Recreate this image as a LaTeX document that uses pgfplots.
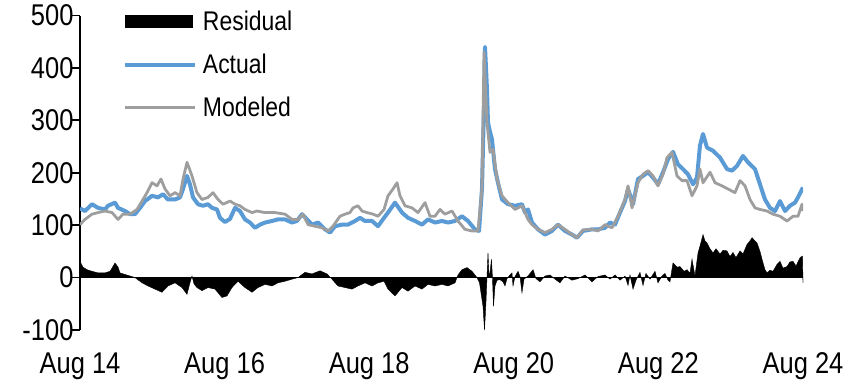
\documentclass[border=0pt]{standalone}
\usepackage{pgfplots}
\pgfplotsset{compat=1.18}
\usepackage{pgfplotstable}
\usepackage{fontspec}
\setmainfont{Liberation Sans}[FakeStretch=0.85]
\definecolor{actblue}{HTML}{5B9BD5}
\definecolor{modgray}{HTML}{9E9E9E}
\newcommand{\chartfont}{\fontsize{27}{32}\selectfont}
\newcommand{\tickfont}{\fontsize{30}{35}\selectfont}

\pgfplotstableread{
t v
0 132
0.069 127
0.166 140
0.249 133
0.346 130
0.387 137
0.484 143
0.526 133
0.622 127
0.692 121
0.761 121
0.830 133
0.899 146
0.996 156
1.079 153
1.148 159
1.217 149
1.314 149
1.383 153
1.425 169
1.480 194
1.521 178
1.563 153
1.632 140
1.701 137
1.770 140
1.826 133
1.895 130
1.936 114
2.005 106
2.075 112
2.144 133
2.213 127
2.282 111
2.351 105
2.420 95
2.490 101
2.559 105
2.656 108
2.739 111
2.835 111
2.932 105
3.001 108
3.071 121
3.140 111
3.209 101
3.292 105
3.389 92
3.458 86
3.527 98
3.624 101
3.707 101
3.804 108
3.873 114
3.942 108
4.039 108
4.122 98
4.205 114
4.260 124
4.357 143
4.454 124
4.537 114
4.634 108
4.730 101
4.813 111
4.910 105
5.007 108
5.090 105
5.187 108
5.283 117
5.366 108
5.463 92
5.519 89
5.560 169
5.588 328
5.602 440
5.629 360
5.643 296
5.671 278
5.698 264
5.712 245
5.740 207
5.781 181
5.837 149
5.920 140
6.017 137
6.113 140
6.155 124
6.196 130
6.252 105
6.335 92
6.432 82
6.528 89
6.611 101
6.708 89
6.805 82
6.874 76
6.957 89
7.082 92
7.165 92
7.261 95
7.331 105
7.400 101
7.469 124
7.538 146
7.580 169
7.649 140
7.718 188
7.787 194
7.856 201
7.925 191
7.994 178
8.064 201
8.133 226
8.202 240
8.271 216
8.340 207
8.409 197
8.479 178
8.534 191
8.575 252
8.617 274
8.672 248
8.755 242
8.852 229
8.949 207
9.018 204
9.087 213
9.170 232
9.239 220
9.336 207
9.405 178
9.474 149
9.544 133
9.613 127
9.682 146
9.751 127
9.820 137
9.889 143
9.931 153
10.0 172
}\actual

\pgfplotstableread{
t v
0 101
0.069 111
0.166 121
0.249 124
0.346 127
0.443 124
0.526 111
0.595 121
0.692 121
0.788 130
0.858 146
0.927 162
0.996 181
1.065 175
1.120 188
1.176 169
1.245 156
1.314 162
1.383 156
1.425 188
1.480 220
1.549 194
1.618 162
1.687 149
1.770 153
1.840 162
1.909 149
1.978 140
2.075 146
2.144 140
2.213 137
2.282 130
2.379 124
2.448 127
2.559 124
2.697 124
2.835 121
2.932 111
3.015 111
3.084 121
3.154 101
3.250 98
3.347 95
3.430 89
3.499 98
3.596 117
3.665 121
3.734 124
3.776 133
3.845 137
3.900 127
3.970 124
4.053 121
4.122 117
4.205 130
4.260 156
4.329 169
4.385 181
4.426 156
4.495 137
4.592 133
4.675 124
4.772 143
4.841 117
4.910 117
4.979 130
5.048 121
5.145 127
5.228 108
5.325 92
5.422 89
5.505 89
5.560 169
5.588 430
5.629 296
5.671 239
5.712 245
5.768 188
5.837 156
5.920 143
6.017 130
6.113 137
6.196 111
6.252 101
6.335 92
6.432 86
6.528 92
6.611 101
6.708 92
6.805 82
6.874 76
6.957 91
7.082 92
7.165 89
7.261 101
7.358 95
7.441 117
7.538 149
7.580 175
7.635 133
7.718 181
7.787 197
7.856 204
7.925 194
7.994 175
8.064 197
8.119 229
8.188 239
8.257 194
8.326 185
8.396 185
8.465 156
8.534 175
8.575 207
8.617 181
8.714 201
8.783 181
8.880 175
8.963 169
9.059 162
9.129 185
9.198 175
9.267 149
9.336 133
9.405 130
9.502 127
9.585 121
9.682 117
9.779 108
9.862 117
9.931 117
9.986 140
10.0 127
}\modeled

\pgfplotstableread{
t v
0 31
0.041 20
0.097 15
0.166 12
0.249 9
0.346 9
0.415 12
0.443 18
0.484 28
0.526 20
0.553 9
0.622 6
0.692 3
0.761 0
0.858 -10
0.941 -16
1.037 -22
1.134 -28
1.217 -16
1.314 -10
1.411 -19
1.480 -32
1.521 -10
1.549 3
1.577 -12
1.618 -19
1.687 -25
1.770 -19
1.867 -22
1.964 -38
2.033 -35
2.102 -19
2.185 -7
2.282 -19
2.379 -28
2.462 -19
2.559 -13
2.656 -16
2.739 -10
2.835 -7
2.932 -3
3.015 0
3.112 10
3.209 7
3.320 13
3.416 7
3.485 -3
3.568 -16
3.665 -19
3.762 -22
3.845 -16
3.942 -10
4.039 -16
4.122 -10
4.205 -7
4.260 -22
4.357 -35
4.454 -19
4.537 -26
4.634 -16
4.730 -22
4.813 -13
4.910 -16
5.007 -13
5.090 -16
5.187 -10
5.228 5
5.283 15
5.353 19
5.422 12
5.491 0
5.526 -10
5.546 -29
5.574 -55
5.595 -100
5.615 -48
5.629 0
5.643 47
5.657 5
5.671 9
5.691 35
5.705 0
5.719 -55
5.740 -16
5.768 -5
5.809 -4
5.850 -8
5.878 -16
5.906 -2
5.947 5
5.975 9
5.989 -16
6.017 2
6.058 12
6.086 2
6.113 -29
6.141 -3
6.196 3
6.266 15
6.307 -2
6.362 -8
6.432 3
6.501 5
6.570 -3
6.639 -10
6.708 3
6.805 -5
6.888 -2
6.985 5
7.082 -8
7.165 2
7.261 5
7.331 -3
7.400 5
7.469 -5
7.538 3
7.580 -15
7.607 5
7.649 -22
7.690 -5
7.745 10
7.787 -15
7.828 8
7.884 -3
7.953 12
7.994 -10
8.050 3
8.091 8
8.133 -5
8.160 -8
8.202 28
8.257 20
8.299 21
8.354 12
8.396 15
8.437 8
8.465 35
8.506 3
8.548 47
8.575 60
8.617 82
8.644 70
8.672 66
8.714 55
8.755 47
8.797 55
8.852 45
8.894 52
8.949 51
8.990 40
9.032 48
9.073 38
9.129 51
9.170 45
9.225 63
9.267 70
9.295 76
9.336 70
9.364 66
9.405 50
9.433 35
9.474 15
9.502 9
9.544 14
9.585 12
9.640 25
9.682 31
9.723 18
9.779 21
9.820 30
9.862 31
9.903 22
9.959 38
9.993 41
10.0 -10
}\residual

\begin{document}
\begin{tikzpicture}
\useasboundingbox (-80pt,-56pt) rectangle (772pt,330pt);
\begin{axis}[
  scale only axis,
  width=723pt, height=314.5pt,
  xmin=0, xmax=10, ymin=-100, ymax=500,
  axis y line*=left,
  axis x line*=bottom,
  x axis line style={draw=none},
  y axis line style={line width=1.8pt},
  xtick={0,2,4,6,8,10},
  xticklabels={Aug 14,Aug 16,Aug 18,Aug 20,Aug 22,Aug 24},
  major x tick style={draw=none},
  ytick={-100,0,100,200,300,400,500},
  major y tick style={line width=1.8pt, black},
  tick align=outside,
  major tick length=8pt,
  /pgf/number format/assume math mode=true,
  tick label style={font=\tickfont},
  xticklabel style={font=\tickfont, yshift=-11pt},
  yticklabel style={font=\tickfont, xshift=5pt},
  legend style={draw=none, fill=none, at={(0.055,1.024)}, anchor=north west,
    font=\chartfont, row sep=20pt,
    nodes={inner sep=1pt},
    /tikz/every odd column/.append style={column sep=5pt}},
  legend cell align=left,
]
\addplot[fill=black, draw=black, line width=0.4pt,
  legend image code/.code={\fill[black] (0pt,-6pt) rectangle (67pt,6pt);}]
  table[x=t, y=v] {\residual} \closedcycle;
\addlegendentry{Residual}
\addplot[color=actblue, line width=4pt, line join=round,
  legend image code/.code={\draw[line width=4pt, color=actblue] (0pt,0pt) -- (70pt,0pt);}]
  table[x=t, y=v] {\actual};
\addlegendentry{Actual}
\addplot[color=modgray, line width=2.8pt, line join=round,
  legend image code/.code={\draw[line width=2.8pt, color=modgray] (0pt,0pt) -- (70pt,0pt);}]
  table[x=t, y=v] {\modeled};
\addlegendentry{Modeled}
\addplot[black, line width=1.8pt, forget plot] coordinates {(0,0) (10,0)};
\end{axis}
\end{tikzpicture}
\end{document}
